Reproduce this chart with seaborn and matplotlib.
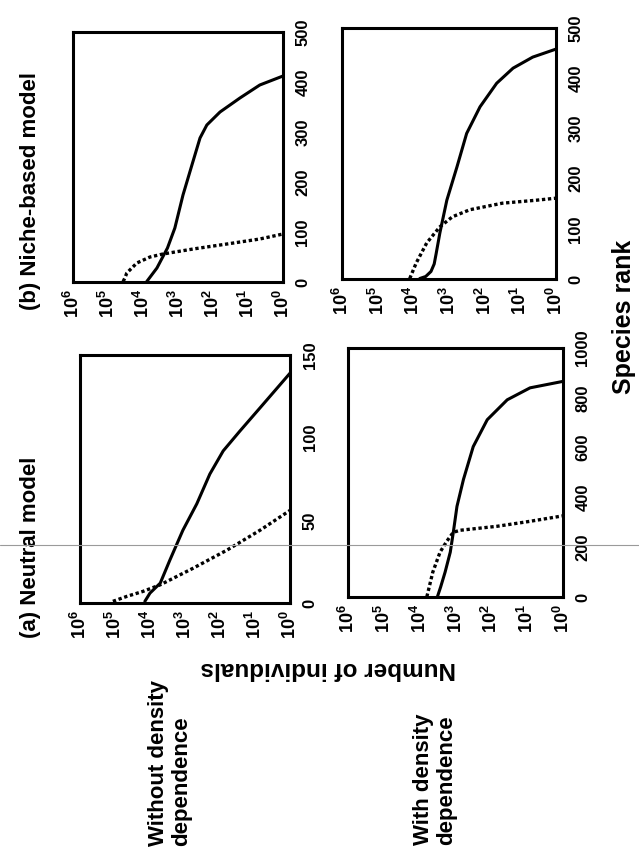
import seaborn as sns
import matplotlib.pyplot as plt
from matplotlib.lines import Line2D
from matplotlib.ticker import NullLocator

# Rank-abundance curves, read from the (rotated) scanned figure
# (b) niche-based model, without density dependence
nb_free_solid_n = [7800, 4000, 2000, 1230, 720, 400, 235, 150, 63, 17, 4.6, 1]
nb_free_solid_rank = [1, 28, 68, 108, 174, 234, 288, 314, 340, 368, 394, 412]
nb_free_dot_n = [37000, 33000, 29000, 15000, 6300, 2700, 370, 40, 4.6, 1]
nb_free_dot_rank = [1, 8, 18, 38, 50, 56, 66, 76, 86, 96]

# (a) neutral model, without density dependence
neu_free_solid_n = [14000, 10000, 5100, 2700, 1150, 460, 195, 81, 27, 7.2, 1]
neu_free_solid_rank = [1, 6, 12, 26, 44, 60, 78, 92, 104, 118, 139]
neu_free_dot_n = [115000, 46000, 16000, 5100, 590, 63, 7.2, 1]
neu_free_dot_rank = [1, 4, 7, 11, 21, 32, 44, 56]

# (b) niche-based model, with density dependence
nb_dd_solid_n = [6600, 4500, 3200, 2600, 2300, 1800, 1150, 600, 320, 135, 46, 16, 4.5, 1]
nb_dd_solid_rank = [1, 5, 15, 30, 50, 92, 157, 223, 290, 343, 390, 420, 442, 458]
nb_dd_dot_n = [12600, 8300, 4200, 1800, 800, 260, 32, 3.5, 1]
nb_dd_dot_rank = [1, 32, 72, 104, 124, 138, 151, 157, 161]

# (a) neutral model, with density dependence
neu_dd_solid_n = [3200, 2600, 1950, 1400, 1150, 910, 600, 320, 130, 36, 8.3, 1]
neu_dd_solid_rank = [1, 40, 100, 180, 260, 364, 472, 604, 712, 792, 840, 866]
neu_dd_dot_n = [6300, 4300, 2700, 1750, 1150, 740, 69, 8.3, 1]
neu_dd_dot_rank = [1, 100, 180, 224, 260, 268, 284, 304, 326]

abund_ticks = [1e6, 1e5, 1e4, 1e3, 1e2, 1e1, 1]
abund_labels = [r'$\mathbf{10^{%d}}$' % p for p in [6, 5, 4, 3, 2, 1, 0]]

sns.set_theme(style='white')
plt.rcParams['font.family'] = ['Liberation Sans', 'DejaVu Sans']
plt.rcParams['font.weight'] = 'bold'
plt.rcParams['mathtext.fontset'] = 'custom'
plt.rcParams['mathtext.rm'] = 'Liberation Sans:bold'
plt.rcParams['mathtext.bf'] = 'Liberation Sans:bold'
for key in ['text.color', 'axes.labelcolor', 'xtick.color', 'ytick.color']:
    plt.rcParams[key] = 'black'

fig = plt.figure(figsize=(6.39, 8.5), dpi=100)
W, H = 639, 850


def panel(box, rmax, rticks, solid, dotted):
    x0, y0, x1, y1 = box
    ax = fig.add_axes([x0 / W, 1 - y1 / H, (x1 - x0) / W, (y1 - y0) / H])
    ax.set_xscale('log')
    sns.lineplot(x=solid[0], y=solid[1], orient='y', estimator=None,
                 color='black', lw=2.2, ax=ax)
    sns.lineplot(x=dotted[0], y=dotted[1], orient='y', estimator=None,
                 color='black', lw=2.4, ax=ax, linestyle=(0, (1, 0.8)))
    ax.set_xlim(1e6, 1)
    ax.set_ylim(0, rmax)
    ax.set_xticks(abund_ticks)
    ax.set_xticklabels(abund_labels, rotation=90, fontsize=13)
    ax.xaxis.set_minor_locator(NullLocator())
    ax.yaxis.tick_right()
    ax.set_yticks(rticks)
    ax.set_yticklabels([str(t) for t in rticks], rotation=90, fontsize=12,
                       fontweight='bold', va='center')
    ax.tick_params(axis='x', length=0, pad=5)
    ax.tick_params(axis='y', length=0, pad=9)
    ax.set_xlabel('')
    ax.set_ylabel('')
    for s in ax.spines.values():
        s.set_visible(True)
        s.set_color('black')
        s.set_linewidth(2.2)
    return ax


panel((73, 32, 283, 282), 500, [0, 100, 200, 300, 400, 500],
      (nb_free_solid_n, nb_free_solid_rank), (nb_free_dot_n, nb_free_dot_rank))
panel((80, 355, 290, 603), 150, [0, 50, 100, 150],
      (neu_free_solid_n, neu_free_solid_rank), (neu_free_dot_n, neu_free_dot_rank))
panel((342, 28, 556, 279), 500, [0, 100, 200, 300, 400, 500],
      (nb_dd_solid_n, nb_dd_solid_rank), (nb_dd_dot_n, nb_dd_dot_rank))
panel((348, 348, 563, 597), 1000, [0, 200, 400, 600, 800, 1000],
      (neu_dd_solid_n, neu_dd_solid_rank), (neu_dd_dot_n, neu_dd_dot_rank))

fig.text(31 / W, 1 - 310 / H, '(b) Niche-based model', rotation=90,
         ha='center', va='bottom', fontsize=16, fontweight='bold')
fig.text(31 / W, 1 - 638 / H, '(a) Neutral model', rotation=90,
         ha='center', va='bottom', fontsize=16, fontweight='bold')
fig.text(328 / W, 1 - 668 / H, 'Number of individuals', rotation=180,
         ha='center', va='center', fontsize=17.5, fontweight='bold')
fig.text(170 / W, 1 - 846 / H, 'Without density\ndependence', rotation=90,
         ha='center', va='bottom', multialignment='left', linespacing=1.1,
         fontsize=16, fontweight='bold')
fig.text(435 / W, 1 - 845 / H, 'With density\ndependence', rotation=90,
         ha='center', va='bottom', multialignment='left', linespacing=1.1,
         fontsize=16, fontweight='bold')
fig.text(624 / W, 1 - 317 / H, 'Species rank', rotation=90,
         ha='center', va='center', fontsize=18, fontweight='bold')

# faint scanner line across the page
fig.add_artist(Line2D([0, 1], [1 - 545 / H, 1 - 545 / H], transform=fig.transFigure,
                      color='#9a9a9a', lw=0.8, zorder=10))

fig.savefig('out.png', dpi=100)
